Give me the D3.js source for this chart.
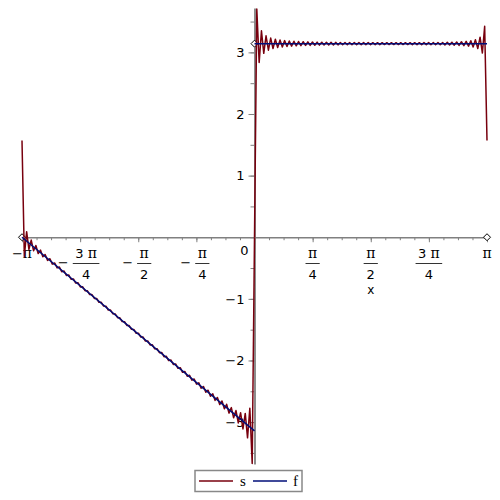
<!DOCTYPE html>
<html><head><meta charset="utf-8">
<script src="https://cdn.jsdelivr.net/npm/d3@7"></script>
<style>body{margin:0;background:#fff}svg{display:block}</style>
</head><body><svg id="c" width="500" height="500"></svg>
<script>
const PI = Math.PI;
const xDomain = [-PI, PI];
const yDomain = [-3.68, 3.72];
const xTickMultiples = [-1, -0.75, -0.5, -0.25, 0.25, 0.5, 0.75, 1];
const xTickSign = ["−", "−", "−", "−", "", "", "", ""];
const xTickNum = ["π", "3 π", "π", "π", "π", "π", "3 π", "π"];
const xTickDen = ["", "4", "2", "4", "4", "2", "4", ""];
const yTicks = [-3, -2, -1, 1, 2, 3];
const yTickLabels = ["−3", "−2", "−1", "1", "2", "3"];
const seriesNames = ["s", "f"];
const seriesColors = ["#78000E", "#000E78"];

// s : values (plateau part, 0..π)
const sPlateauX = [0,0.031,0.063,0.094,0.125,0.156,0.188,0.219,0.250,0.282,0.313,
0.345,0.376,0.407,0.439,0.470,0.501,0.533,0.564,0.595,0.627,
0.658,0.689,0.721,0.752,0.783,0.815,0.846,0.877,0.909,0.940,
0.972,1.003,1.034,1.066,1.097,1.128,1.160,1.191,1.223,1.254,
1.285,1.317,1.348,1.380,1.411,1.442,1.474,1.505,1.536,1.568,
1.599,1.631,1.662,1.693,1.725,1.756,1.788,1.819,1.850,1.882,
1.913,1.945,1.976,2.007,2.039,2.070,2.102,2.133,2.164,2.196,
2.227,2.259,2.290,2.321,2.353,2.384,2.416,2.447,2.479,2.510,
2.542,2.573,2.605,2.636,2.667,2.699,2.732,2.764,2.796,2.829,
2.860,2.892,2.923,2.954,2.985,3.017,3.048,3.079,3.110,PI];
const sPlateauY = [0,3.704,2.836,3.349,2.984,3.268,3.036,3.232,3.062,3.212,3.078,
3.200,3.088,3.191,3.096,3.185,3.101,3.180,3.106,3.176,3.109,
3.173,3.112,3.170,3.114,3.168,3.116,3.166,3.118,3.165,3.119,
3.164,3.120,3.163,3.121,3.162,3.122,3.161,3.123,3.160,3.124,
3.159,3.124,3.159,3.125,3.158,3.125,3.158,3.126,3.158,3.126,
3.157,3.126,3.157,3.126,3.157,3.127,3.157,3.127,3.157,3.127,
3.157,3.127,3.157,3.127,3.157,3.127,3.157,3.126,3.157,3.126,
3.157,3.126,3.158,3.125,3.158,3.124,3.159,3.124,3.160,3.123,
3.161,3.121,3.163,3.119,3.165,3.117,3.168,3.113,3.172,3.108,
3.178,3.101,3.188,3.088,3.206,3.062,3.246,2.989,3.423,1.571];

// s : values (ramp part, 0..-π)
const sRampX = [0,-0.031,-0.063,-0.094,-0.125,-0.156,-0.188,-0.219,-0.250,-0.282,-0.313,
-0.345,-0.376,-0.407,-0.439,-0.470,-0.501,-0.533,-0.564,-0.595,-0.627,
-0.658,-0.689,-0.721,-0.752,-0.783,-0.815,-0.846,-0.877,-0.909,-0.940,
-0.972,-1.003,-1.034,-1.066,-1.097,-1.128,-1.160,-1.191,-1.223,-1.254,
-1.285,-1.317,-1.348,-1.380,-1.411,-1.442,-1.474,-1.505,-1.536,-1.568,
-1.599,-1.631,-1.662,-1.693,-1.725,-1.756,-1.788,-1.819,-1.850,-1.882,
-1.913,-1.945,-1.976,-2.007,-2.039,-2.070,-2.102,-2.133,-2.164,-2.196,
-2.227,-2.259,-2.290,-2.321,-2.353,-2.384,-2.416,-2.447,-2.479,-2.510,
-2.542,-2.573,-2.605,-2.636,-2.667,-2.699,-2.732,-2.764,-2.796,-2.829,
-2.860,-2.892,-2.923,-2.954,-2.985,-3.017,-3.048,-3.079,-3.110,-PI];
const sRampY = [0,-3.673,-2.774,-3.256,-2.859,-3.112,-2.848,-3.013,-2.812,-2.931,-2.765,
-2.855,-2.712,-2.784,-2.657,-2.715,-2.600,-2.647,-2.542,-2.581,-2.482,
-2.515,-2.423,-2.450,-2.362,-2.385,-2.301,-2.320,-2.240,-2.256,-2.179,
-2.192,-2.117,-2.128,-2.056,-2.065,-1.994,-2.001,-1.932,-1.938,-1.870,
-1.874,-1.808,-1.811,-1.745,-1.747,-1.683,-1.684,-1.620,-1.621,-1.558,
-1.558,-1.496,-1.495,-1.433,-1.432,-1.370,-1.369,-1.308,-1.306,-1.245,
-1.243,-1.182,-1.181,-1.119,-1.118,-1.056,-1.055,-0.993,-0.993,-0.930,
-0.930,-0.867,-0.868,-0.804,-0.806,-0.740,-0.744,-0.676,-0.682,-0.612,
-0.620,-0.548,-0.559,-0.483,-0.498,-0.418,-0.436,-0.349,-0.376,-0.279,
-0.318,-0.209,-0.265,-0.134,-0.220,-0.046,-0.198,0.090,-0.313,1.571];

// f
const fRampX = [-PI, 0], fRampY = [0, -PI];
const fPlateauX = [0, PI], fPlateauY = [PI, PI];
// endpoint markers
const markerX = [-PI, 0, PI], markerY = [0, PI, 0];

const svg = d3.select("#c");
const x = d3.scaleLinear().domain(xDomain).range([22, 487]);
const y = d3.scaleLinear().domain(yDomain).range([464, 8]);
const axisColor = "#808080";
const sansFont = "DejaVu Sans, sans-serif";
const piFont = "DejaVu Serif, serif";

// axes
const xMinor = d3.range(-16, 17).map(k => k * PI / 16);
const xMajor = xTickMultiples.map(m => m * PI);
const gx = svg.append("g").attr("transform", `translate(0,${y(0)})`);
gx.call(d3.axisBottom(x).tickValues(xMinor).tickSize(3).tickSizeOuter(0).tickFormat(""));
gx.call(g => g.append("g").call(d3.axisBottom(x).tickValues(xMajor).tickSize(5).tickSizeOuter(0).tickFormat("")).select(".domain").remove());
gx.selectAll("path,line").attr("stroke", axisColor);
gx.select(".domain").attr("stroke-width", 1.6);

const yMinor = d3.range(-7, 8).map(k => k / 2);
const gy = svg.append("g").attr("transform", `translate(${x(0)},0)`);
gy.call(d3.axisLeft(y).tickValues(yMinor).tickSize(4).tickSizeOuter(0).tickFormat(""));
gy.call(g => g.append("g").call(d3.axisLeft(y).tickValues(yTicks).tickSize(6).tickSizeOuter(0).tickFormat("")).select(".domain").remove());
gy.selectAll("path,line").attr("stroke", axisColor);
gy.select(".domain").attr("stroke-width", 1.8);

function mathText(sel, str) {
  for (const ch of str) {
    sel.append("tspan").attr("font-family", ch === "π" ? piFont : sansFont)
      .attr("font-size", ch === "π" ? 14 : 13).text(ch);
  }
  return sel;
}

// x tick labels
const lab = svg.append("g").attr("fill", "#000");
xMajor.forEach((v, i) => {
  const tx = x(v);
  if (xTickDen[i] === "") {
    mathText(lab.append("text").attr("x", tx).attr("y", 258).attr("text-anchor", "middle"), xTickSign[i] + xTickNum[i]);
    return;
  }
  const num = mathText(lab.append("text").attr("y", 258).attr("text-anchor", "middle"), xTickNum[i]);
  const den = mathText(lab.append("text").attr("y", 279).attr("text-anchor", "middle"), xTickDen[i]);
  const bw = Math.max(num.node().getComputedTextLength(), den.node().getComputedTextLength()) + 5;
  let fx = tx;
  if (xTickSign[i]) {
    const mn = lab.append("text").attr("y", 267).attr("text-anchor", "end")
      .attr("font-family", sansFont).attr("font-size", 13).text(xTickSign[i]);
    const mw = mn.node().getComputedTextLength();
    const total = mw + 4 + bw;
    const left = tx - 1.5 - total / 2;
    fx = left + mw + 4 + bw / 2;
    mn.attr("x", fx - bw / 2 - 4);
  }
  num.attr("x", fx); den.attr("x", fx);
  lab.append("line").attr("x1", fx - bw / 2).attr("x2", fx + bw / 2)
    .attr("y1", 263.5).attr("y2", 263.5).attr("stroke", "#333").attr("stroke-width", 1);
});
lab.append("text").attr("x", x(0) - 10).attr("y", 255).attr("text-anchor", "middle")
  .attr("font-family", sansFont).attr("font-size", 13).text("0");
lab.append("text").attr("x", x(PI / 2)).attr("y", 294).attr("text-anchor", "middle")
  .attr("font-family", sansFont).attr("font-size", 12).text("x");

// y tick labels
yTicks.forEach((v, i) => {
  lab.append("text").attr("x", x(0) - 10).attr("y", y(v)).attr("dy", "0.36em")
    .attr("text-anchor", "end").attr("font-family", sansFont).attr("font-size", 13)
    .text(yTickLabels[i]);
});

const zip = (a, b) => a.map((v, i) => [v, b[i]]);

// markers (beneath the curves)
svg.append("g").selectAll("path").data(zip(markerX, markerY)).join("path")
  .attr("transform", d => `translate(${x(d[0])},${y(d[1])})`)
  .attr("d", "M0,-3.5L3.5,0L0,3.5L-3.5,0Z")
  .attr("fill", "#fff").attr("stroke", "#000").attr("stroke-width", 1);

// curves
const line = d3.line().x(d => x(d[0])).y(d => y(d[1]));
const plot = svg.append("g").attr("fill", "none").attr("stroke-linejoin", "round");
plot.append("path").attr("d", line(zip(sRampX, sRampY))).attr("stroke", seriesColors[0]).attr("stroke-width", 1.5);
plot.append("path").attr("d", line(zip(sPlateauX, sPlateauY))).attr("stroke", seriesColors[0]).attr("stroke-width", 1.5);
plot.append("path").attr("d", line(zip(fRampX, fRampY))).attr("stroke", seriesColors[1]).attr("stroke-width", 1.5);
plot.append("path").attr("d", line(zip(fPlateauX, fPlateauY))).attr("stroke", seriesColors[1]).attr("stroke-width", 1.5);

// legend
const lg = svg.append("g");
lg.append("rect").attr("x", 195).attr("y", 470.5).attr("width", 107).attr("height", 21)
  .attr("fill", "#fff").attr("stroke", "#888").attr("stroke-width", 1.5);
const lgItems = [[199, 233, 240], [253, 287, 293]];
seriesNames.forEach((n, i) => {
  lg.append("line").attr("x1", lgItems[i][0]).attr("x2", lgItems[i][1]).attr("y1", 481).attr("y2", 481)
    .attr("stroke", seriesColors[i]).attr("stroke-width", 1.5);
  lg.append("text").attr("x", lgItems[i][2]).attr("y", 486).attr("font-family", "Liberation Serif, serif")
    .attr("font-size", 15).attr("fill", "#000").text(n);
});
</script></body></html>
